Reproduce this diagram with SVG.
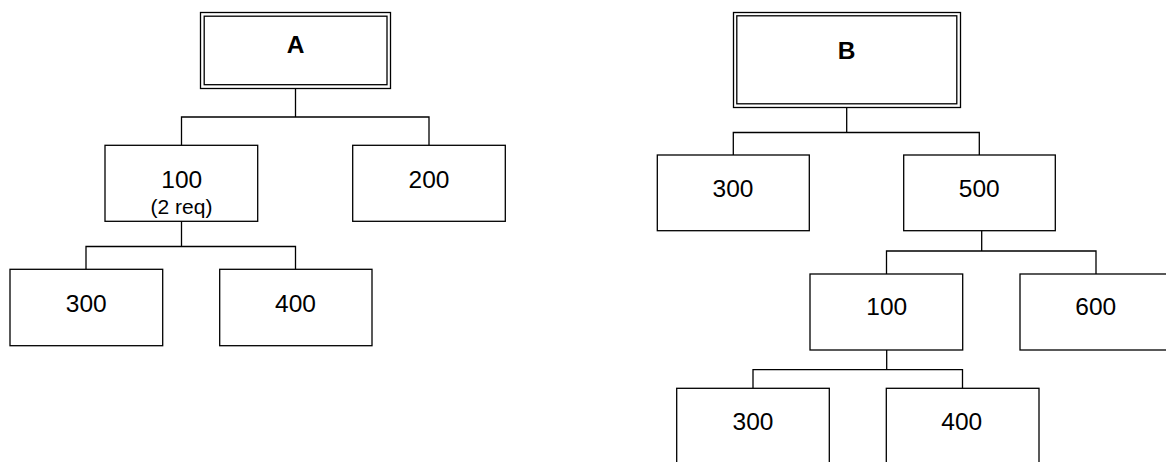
<svg xmlns="http://www.w3.org/2000/svg" width="1166" height="462" viewBox="0 0 1166 462">
<style>
.box{fill:#fff;stroke:#000;stroke-width:1.3}
.conn{fill:none;stroke:#000;stroke-width:1.3}
.t{font-family:"Liberation Sans",Arial,sans-serif;font-size:24.5px;text-anchor:middle;fill:#000}
.b{font-weight:bold}
.s{font-size:21px}
</style>
<rect width="1166" height="462" fill="#fff"/>
<g id="connectors">
<path class="conn" d="M295.5,88.5V117M181.5,145V117H429V145"/>
<path class="conn" d="M181.5,221V246.5M86,269V246.5H295.5V269"/>
<path class="conn" d="M846.7,107.5V132.5M733.3,155V132.5H979.3V155"/>
<path class="conn" d="M981.7,230.5V251M886.5,274V251H1096V274"/>
<path class="conn" d="M886.7,350V369.7M753,388.3V369.7H962.5V388.3"/>
</g>
<g id="A">
<rect class="box" x="200.5" y="12.5" width="190" height="76"/>
<rect class="box" x="204.2" y="16.2" width="182.8" height="68.5"/>
<text class="t b" x="295.7" y="53.3">A</text>
</g>
<g id="A100">
<rect class="box" x="105" y="145.3" width="152.7" height="76"/>
<text class="t" x="181.7" y="187.7">100</text>
<text class="t s" x="181.5" y="213.5">(2 req)</text>
</g>
<g id="A200">
<rect class="box" x="352.7" y="145.3" width="152.6" height="76"/>
<text class="t" x="429" y="187.7">200</text>
</g>
<g id="A300">
<rect class="box" x="10" y="269.3" width="152.7" height="76.4"/>
<text class="t" x="86.3" y="311.7">300</text>
</g>
<g id="A400">
<rect class="box" x="219.7" y="269.3" width="152.3" height="76.4"/>
<text class="t" x="295.5" y="311.7">400</text>
</g>
<g id="B">
<rect class="box" x="733.5" y="12.5" width="227" height="95"/>
<rect class="box" x="736.8" y="15.8" width="220" height="88"/>
<text class="t b" x="846.7" y="59.3">B</text>
</g>
<g id="B300">
<rect class="box" x="657.3" y="155" width="152" height="75.7"/>
<text class="t" x="733" y="196.7">300</text>
</g>
<g id="B500">
<rect class="box" x="903.7" y="155" width="151.6" height="75.7"/>
<text class="t" x="979.3" y="196.7">500</text>
</g>
<g id="B100">
<rect class="box" x="810" y="274" width="152.7" height="76"/>
<text class="t" x="886.7" y="315.3">100</text>
</g>
<g id="B600">
<rect class="box" x="1020" y="274" width="152.7" height="76"/>
<text class="t" x="1095.7" y="315.3">600</text>
</g>
<g id="B300b">
<rect class="box" x="676.7" y="388.3" width="152.6" height="76"/>
<text class="t" x="753" y="430">300</text>
</g>
<g id="B400b">
<rect class="box" x="886.3" y="388.3" width="152.7" height="76"/>
<text class="t" x="961.7" y="430">400</text>
</g>
</svg>
